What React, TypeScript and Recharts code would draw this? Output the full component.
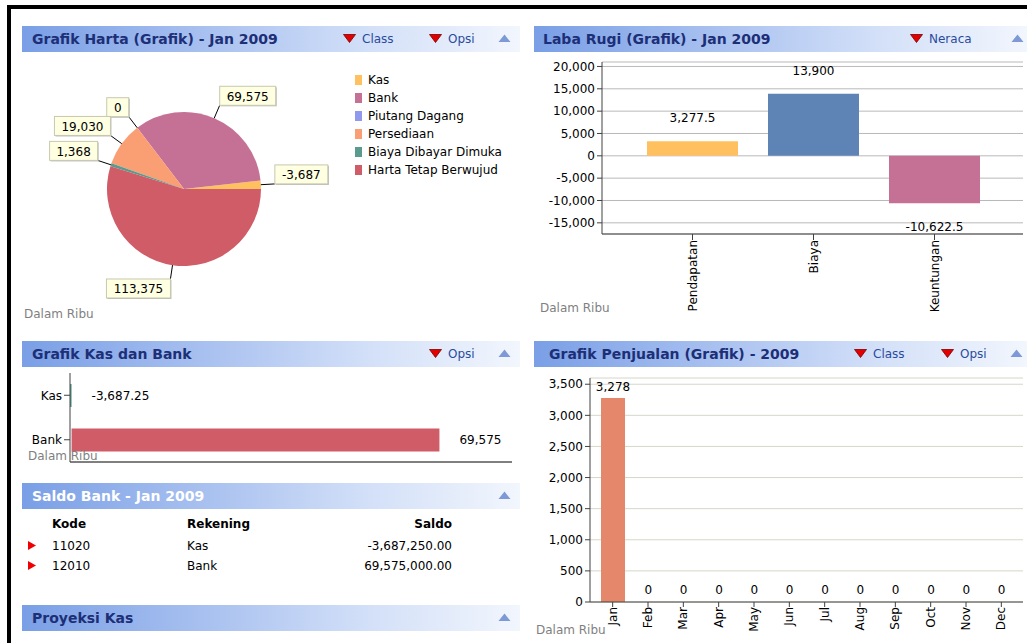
import React from 'react';
import { PieChart, Pie, Cell, BarChart, Bar, XAxis, YAxis, CartesianGrid, LabelList } from 'recharts';

// ---------- data ----------
const hartaNames = ['Kas', 'Bank', 'Piutang Dagang', 'Persediaan', 'Biaya Dibayar Dimuka', 'Harta Tetap Berwujud'];
const hartaValues = [-3687.25, 69575, 0, 19030, 1368, 113375];
const hartaColors = ['#FFC060', '#C57195', '#9199EE', '#FA9E73', '#5B9B8E', '#CF5C67'];

const labaCategories = ['Pendapatan', 'Biaya', 'Keuntungan'];
const labaValues = [3277.5, 13900, -10622.5];
const labaColors = ['#FFC060', '#5E83B5', '#C57195'];
const labaTicks = [-15000, -10000, -5000, 0, 5000, 10000, 15000, 20000];

const kasBankCategories = ['Kas', 'Bank'];
const kasBankValues = [-3687.25, 69575];
const kasBankColors = ['#5B9B8E', '#CF5C67'];

const months = ['Jan', 'Feb', 'Mar', 'Apr', 'May', 'Jun', 'Jul', 'Aug', 'Sep', 'Oct', 'Nov', 'Dec'];
const penjualanValues = [3277.5, 0, 0, 0, 0, 0, 0, 0, 0, 0, 0, 0];
const penjualanTicks = [0, 500, 1000, 1500, 2000, 2500, 3000, 3500];

const saldoKode = ['11020', '12010'];
const saldoRekening = ['Kas', 'Bank'];
const saldoValues = [-3687250, 69575000];

// ---------- helpers ----------
const FONT = "'DejaVu Sans', Verdana, sans-serif";
const fmt = (v: number, maxD: number, minD = 0) =>
  v.toLocaleString('en-US', { minimumFractionDigits: minD, maximumFractionDigits: maxD });

const textW = (s: string) => {
  let w = 0;
  for (const ch of s) {
    if (ch >= '0' && ch <= '9') w += 7.63;
    else if (ch === ',' || ch === '.') w += 3.82;
    else if (ch === '-') w += 4.33;
    else w += 7;
  }
  return w;
};

const hartaData = hartaNames.map((name, i) => ({ name, value: hartaValues[i], size: Math.abs(hartaValues[i]) }));
const labaData = labaCategories.map((name, i) => ({ name, value: labaValues[i] }));
const kasBankData = kasBankCategories.map((name, i) => ({ name, value: kasBankValues[i] }));
const penjualanData = months.map((month, i) => ({ month, value: penjualanValues[i] }));

// ---------- header ----------
type HLink = { label: string; x: number };
function PanelHeader(props: { x: number; y: number; w: number; title: string; titleX: number; links: HLink[]; upX: number; white?: boolean }) {
  const { x, y, w, title, titleX, links, upX, white } = props;
  return (
    <div
      style={{
        position: 'absolute', left: x, top: y, width: w, height: 26,
        background: 'linear-gradient(to right, #7A9FE6 0%, #A6BFEF 35%, #D3E0F8 70%, #F2F6FD 100%)',
      }}
    >
      <div style={{ position: 'absolute', left: titleX, top: 0, lineHeight: '26px', fontWeight: 'bold', fontSize: 14, color: white ? '#FFFFFF' : '#1C2F77', whiteSpace: 'nowrap' }}>
        {title}
      </div>
      {links.map((l) => (
        <React.Fragment key={l.label}>
          <svg style={{ position: 'absolute', left: l.x, top: 8 }} width={13} height={9}>
            <polygon points="0.5,0.5 12.5,0.5 6.5,8.5" fill="#E30000" stroke="#7A0000" strokeWidth={0.8} />
          </svg>
          <div style={{ position: 'absolute', left: l.x + 19, top: 0, lineHeight: '26px', fontSize: 12, color: '#2A4B9E', whiteSpace: 'nowrap' }}>
            {l.label}
          </div>
        </React.Fragment>
      ))}
      <svg style={{ position: 'absolute', left: upX, top: 8 }} width={13} height={9}>
        <polygon points="6.5,0.5 12.5,8 0.5,8" fill="#7D99D6" />
      </svg>
    </div>
  );
}

const DalamRibu = ({ x, y }: { x: number; y: number }) => (
  <div style={{ position: 'absolute', left: x, top: y, fontSize: 12, color: '#7F7F7F', lineHeight: '14px', whiteSpace: 'nowrap' }}>Dalam Ribu</div>
);

// ---------- pie label ----------
const renderPieLabel = (p: any) => {
  const { cx, cy, midAngle, outerRadius, index } = p;
  const rad = Math.PI / 180;
  const c = Math.cos(-midAngle * rad);
  const s = Math.sin(-midAngle * rad);
  const sx = cx + outerRadius * c;
  const sy = cy + outerRadius * s;
  const ex = cx + (outerRadius + 14) * c;
  const ey = cy + (outerRadius + 14) * s;
  const text = fmt(hartaValues[index], 0);
  const w = Math.round(textW(text) + 14);
  const h = 19;
  const bx = c >= 0 ? ex : ex - w;
  const by = s <= 0 ? ey - h : ey;
  return (
    <g key={`pl-${index}`}>
      <line x1={sx} y1={sy} x2={ex} y2={ey} stroke="#000" strokeWidth={1} />
      <rect x={bx + 1} y={by + 1} width={w} height={h} fill="#B8B8B8" />
      <rect x={bx} y={by} width={w} height={h} fill="#FFFFE1" stroke="#C8C8B0" strokeWidth={1} />
      <text x={bx + w / 2} y={by + h / 2 + 1} textAnchor="middle" dominantBaseline="central" fontSize={12} fontFamily={FONT} fill="#000">
        {text}
      </text>
    </g>
  );
};

// ---------- rotated tick ----------
const RotTick = (p: any) => {
  const { x, y, payload } = p;
  return (
    <text x={x} y={y} transform={`rotate(-90, ${x}, ${y})`} textAnchor="end" dominantBaseline="central" fontSize={12} fontFamily={FONT} fill="#000">
      {payload.value}
    </text>
  );
};

const rectOf = (p: any) => {
  const vb = p.viewBox || {};
  const x = p.x ?? vb.x;
  const y = p.y ?? vb.y;
  const width = p.width ?? vb.width;
  const height = p.height ?? vb.height;
  return { x: Number(x), y: Number(y), width: Number(width), height: Number(height) };
};

const labaLabel = (p: any) => {
  const r = rectOf(p);
  const v = labaValues[p.index];
  const top = Math.min(r.y, r.y + r.height);
  const bottom = Math.max(r.y, r.y + r.height);
  const ty = v >= 0 ? top - 23 : bottom + 24;
  return (
    <text x={r.x + r.width / 2} y={ty} textAnchor="middle" dominantBaseline="central" fontSize={12} fontFamily={FONT} fill="#000">
      {fmt(v, 2)}
    </text>
  );
};

const kasBankLabel = (p: any) => {
  const r = rectOf(p);
  const v = kasBankValues[p.index];
  const end = Math.max(r.x, r.x + r.width);
  return (
    <text x={end + 20} y={r.y + r.height / 2} textAnchor="start" dominantBaseline="central" fontSize={12} fontFamily={FONT} fill="#000">
      {fmt(v, 2)}
    </text>
  );
};

const penjualanLabel = (p: any) => {
  const r = rectOf(p);
  const v = penjualanValues[p.index];
  const top = Math.min(r.y, r.y + r.height);
  return (
    <text x={r.x + r.width / 2} y={top - 11} textAnchor="middle" dominantBaseline="central" fontSize={12} fontFamily={FONT} fill="#000">
      {fmt(v, 0)}
    </text>
  );
};

const tickStyle = { fill: '#000', fontSize: 12, fontFamily: FONT };

export default function App() {
  return (
    <div style={{ position: 'fixed', left: 0, top: 0, width: 1027, height: 643, background: '#FFFFFF', overflow: 'hidden', fontFamily: FONT }}>
      {/* frame */}
      <div style={{ position: 'absolute', left: 7, top: 5, width: 1020, height: 4, background: '#000' }} />
      <div style={{ position: 'absolute', left: 7, top: 5, width: 4, height: 638, background: '#000' }} />

      {/* ---- Grafik Harta ---- */}
      <PanelHeader x={22} y={26} w={498} title="Grafik Harta (Grafik) - Jan 2009" titleX={10} links={[{ label: 'Class', x: 321 }, { label: 'Opsi', x: 407 }]} upX={476} />
      <div style={{ position: 'absolute', left: 22, top: 52 }}>
        <PieChart width={498} height={273} margin={{ top: 0, right: 0, bottom: 0, left: 0 }}>
          <Pie
            data={hartaData}
            dataKey="size"
            nameKey="name"
            cx={162}
            cy={137}
            outerRadius={77}
            startAngle={0}
            endAngle={360}
            stroke="none"
            labelLine={false}
            label={renderPieLabel}
            isAnimationActive={false}
          >
            {hartaData.map((d, i) => (
              <Cell key={d.name} fill={hartaColors[i]} />
            ))}
          </Pie>
        </PieChart>
      </div>
      <div style={{ position: 'absolute', left: 355, top: 72 }}>
        {hartaNames.map((n, i) => (
          <div key={n} style={{ position: 'relative', height: 18, lineHeight: '16px', fontSize: 12, color: '#000', whiteSpace: 'nowrap' }}>
            <span style={{ position: 'absolute', left: 0, top: 3, width: 7, height: 10, background: hartaColors[i] }} />
            <span style={{ position: 'absolute', left: 13, top: 0 }}>{n}</span>
          </div>
        ))}
      </div>
      <DalamRibu x={24} y={307} />

      {/* ---- Laba Rugi ---- */}
      <PanelHeader x={534} y={26} w={493} title="Laba Rugi (Grafik) - Jan 2009" titleX={9} links={[{ label: 'Neraca', x: 376 }]} upX={477} />
      <div style={{ position: 'absolute', left: 534, top: 55 }}>
        <BarChart width={493} height={270} data={labaData} margin={{ top: 7, right: 4, bottom: 0, left: 0 }}>
          <CartesianGrid vertical={false} stroke="#B9B9B9" />
          <XAxis dataKey="name" padding={{ left: 30, right: 28 }} height={91} tick={<RotTick />} tickSize={6} tickMargin={0} interval={0} stroke="#404040" />
          <YAxis domain={[-17500, 21000]} ticks={labaTicks} allowDataOverflow width={68} tickSize={5} tick={tickStyle} tickFormatter={(v: number) => fmt(v, 0)} stroke="#404040" interval={0} />
          <Bar dataKey="value" barSize={91} isAnimationActive={false}>
            {labaData.map((d, i) => (
              <Cell key={d.name} fill={labaColors[i]} />
            ))}
            <LabelList dataKey="value" content={labaLabel} />
          </Bar>
        </BarChart>
      </div>
      <DalamRibu x={540} y={301} />

      {/* ---- Grafik Kas dan Bank ---- */}
      <PanelHeader x={22} y={341} w={498} title="Grafik Kas dan Bank" titleX={10} links={[{ label: 'Opsi', x: 407 }]} upX={476} />
      <div style={{ position: 'absolute', left: 22, top: 367 }}>
        <BarChart layout="vertical" width={498} height={100} data={kasBankData} margin={{ top: 6, right: 8, bottom: 0, left: 0 }}>
          <XAxis type="number" domain={[-300, 83300]} allowDataOverflow tick={false} tickLine={false} height={5} stroke="#000" />
          <YAxis type="category" dataKey="name" width={48} tickSize={6} tick={tickStyle} stroke="#404040" interval={0} />
          <Bar dataKey="value" barSize={23} isAnimationActive={false}>
            {kasBankData.map((d, i) => (
              <Cell key={d.name} fill={kasBankColors[i]} />
            ))}
            <LabelList dataKey="value" content={kasBankLabel} />
          </Bar>
        </BarChart>
      </div>
      <DalamRibu x={28} y={449} />

      {/* ---- Saldo Bank ---- */}
      <PanelHeader x={22} y={483} w={498} title="Saldo Bank - Jan 2009" titleX={10} links={[]} upX={476} white />
      <div style={{ position: 'absolute', left: 52, top: 517, fontSize: 12, fontWeight: 'bold', color: '#000' }}>Kode</div>
      <div style={{ position: 'absolute', left: 187, top: 517, fontSize: 12, fontWeight: 'bold', color: '#000' }}>Rekening</div>
      <div style={{ position: 'absolute', left: 352, width: 100, textAlign: 'right', top: 517, fontSize: 12, fontWeight: 'bold', color: '#000' }}>Saldo</div>
      {saldoKode.map((k, i) => (
        <React.Fragment key={k}>
          <svg style={{ position: 'absolute', left: 28, top: 541 + i * 20 }} width={8} height={9}>
            <polygon points="0,0 8,4.5 0,9" fill="#F00000" />
          </svg>
          <div style={{ position: 'absolute', left: 52, top: 539 + i * 20, fontSize: 12, color: '#000' }}>{k}</div>
          <div style={{ position: 'absolute', left: 187, top: 539 + i * 20, fontSize: 12, color: '#000' }}>{saldoRekening[i]}</div>
          <div style={{ position: 'absolute', left: 302, width: 150, textAlign: 'right', top: 539 + i * 20, fontSize: 12, color: '#000' }}>{fmt(saldoValues[i], 2, 2)}</div>
        </React.Fragment>
      ))}

      {/* ---- Proyeksi Kas ---- */}
      <PanelHeader x={22} y={605} w={498} title="Proyeksi Kas" titleX={10} links={[]} upX={476} />

      {/* ---- Grafik Penjualan ---- */}
      <PanelHeader x={534} y={341} w={493} title="Grafik Penjualan (Grafik) - 2009" titleX={15} links={[{ label: 'Class', x: 320 }, { label: 'Opsi', x: 407 }]} upX={476} />
      <div style={{ position: 'absolute', left: 534, top: 370 }}>
        <BarChart width={493} height={273} data={penjualanData} margin={{ top: 8, right: 4, bottom: 0, left: 0 }}>
          <CartesianGrid vertical={false} stroke="#D6D6C8" />
          <XAxis dataKey="month" padding={{ left: 5, right: 4 }} height={41} tick={<RotTick />} tickSize={5} tickMargin={0} interval={0} stroke="#404040" />
          <YAxis domain={[0, 3600]} ticks={penjualanTicks} allowDataOverflow width={56} tickSize={5} tick={tickStyle} tickFormatter={(v: number) => fmt(v, 0)} stroke="#404040" interval={0} />
          <Bar dataKey="value" barSize={24} minPointSize={1} isAnimationActive={false}>
            {penjualanData.map((d) => (
              <Cell key={d.month} fill={d.value === 0 ? 'none' : '#E4876B'} />
            ))}
            <LabelList dataKey="value" content={penjualanLabel} />
          </Bar>
        </BarChart>
      </div>
      <DalamRibu x={536} y={623} />
    </div>
  );
}
